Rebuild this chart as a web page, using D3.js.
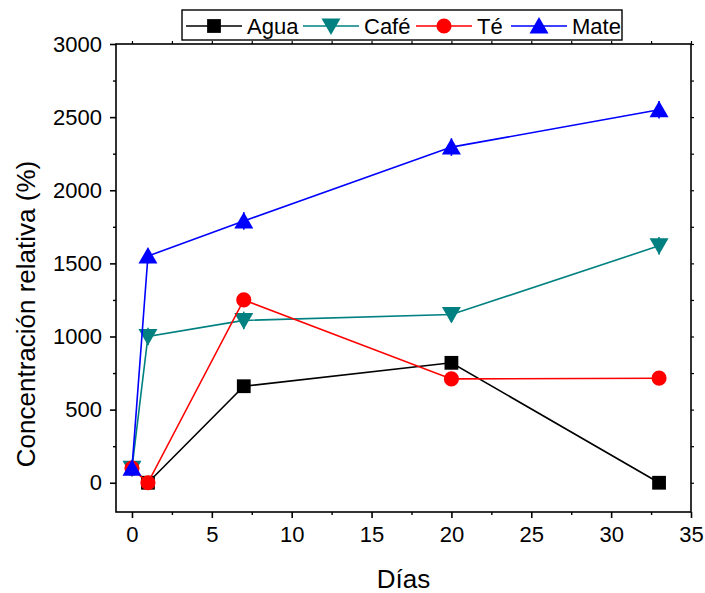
<!DOCTYPE html>
<html><head><meta charset="utf-8">
<script src="https://cdn.jsdelivr.net/npm/d3@7"></script>
<style>body{margin:0;background:#fff}svg{display:block;font-family:"Liberation Sans",Arial,sans-serif}</style>
</head><body><svg id="c" width="705" height="593"></svg>
<script>
const dias = [0, 1, 7, 20, 33];
const agua = [100, 0, 660, 820, 0];
const cafe = [100, 1000, 1110, 1150, 1620];
const te = [100, 0, 1250, 710, 715];
const mate = [100, 1550, 1790, 2295, 2550];
const errCafe = [0, 60, 60, 50, 60];
const errMate = [0, 50, 60, 60, 60];
const xTicks = [0, 5, 10, 15, 20, 25, 30, 35];
const yTicks = [0, 500, 1000, 1500, 2000, 2500, 3000];
const seriesNames = ["Agua", "Café", "Té", "Mate"];

const series = [
  {name: seriesNames[0], vals: agua, err: null, color: "#000000", shape: "square"},
  {name: seriesNames[1], vals: cafe, err: errCafe, color: "#008080", shape: "tridown"},
  {name: seriesNames[2], vals: te, err: null, color: "#ff0000", shape: "circle"},
  {name: seriesNames[3], vals: mate, err: errMate, color: "#0000ff", shape: "triup"}
];

const L = 116, R = 691, T = 44, B = 512;
const x = d3.scaleLinear().domain([-1, 35]).range([L, R]);
const y = d3.scaleLinear().domain([-200, 3000]).range([B, T]);
const svg = d3.select("#c");

function shapePath(shape) {
  if (shape === "square") return d3.symbol(d3.symbolSquare, 190)();
  if (shape === "circle") return d3.symbol(d3.symbolCircle, 180)();
  if (shape === "triup") return "M0,-9L9.5,7.5L-9.5,7.5Z";
  if (shape === "tridown") return "M0,9L9.5,-7.5L-9.5,-7.5Z";
}

const xMinor = d3.range(0, 35.01, 2.5).filter(v => v % 5 !== 0);
const yMinor = d3.range(0, 3000.1, 250).filter(v => v % 500 !== 0);
svg.append("rect").attr("x", L).attr("y", T).attr("width", R - L).attr("height", B - T)
  .attr("fill", "none").attr("stroke", "#000").attr("stroke-width", 1.6);
svg.append("g").attr("transform", `translate(0,${B})`)
  .call(d3.axisBottom(x).tickValues(xTicks).tickSize(6).tickPadding(8).tickFormat(d3.format("d")))
  .call(g => { g.select(".domain").remove(); g.selectAll("line").attr("stroke-width", 1.6); g.selectAll("text").attr("font-size", 22).attr("font-family", "Liberation Sans, Arial"); });
svg.append("g").attr("transform", `translate(0,${B})`)
  .call(d3.axisBottom(x).tickValues(xMinor).tickSize(3).tickFormat(""))
  .call(g => { g.select(".domain").remove(); g.selectAll("line").attr("stroke-width", 1.4); });
svg.append("g").attr("transform", `translate(${L},0)`)
  .call(d3.axisLeft(y).tickValues(yTicks).tickSize(6).tickPadding(8).tickFormat(d3.format("d")))
  .call(g => { g.select(".domain").remove(); g.selectAll("line").attr("stroke-width", 1.6); g.selectAll("text").attr("font-size", 22).attr("font-family", "Liberation Sans, Arial"); });
svg.append("g").attr("transform", `translate(${L},0)`)
  .call(d3.axisLeft(y).tickValues(yMinor).tickSize(3).tickFormat(""))
  .call(g => { g.select(".domain").remove(); g.selectAll("line").attr("stroke-width", 1.4); });
svg.append("g").attr("transform", `translate(0,${T})`)
  .call(d3.axisTop(x).tickValues(xTicks.concat(xMinor)).tickSize(3).tickFormat(""))
  .call(g => { g.select(".domain").remove(); g.selectAll("line").attr("stroke-width", 1.2); });
svg.append("g").attr("transform", `translate(${R},0)`)
  .call(d3.axisRight(y).tickValues(yTicks.concat(yMinor)).tickSize(3).tickFormat(""))
  .call(g => { g.select(".domain").remove(); g.selectAll("line").attr("stroke-width", 1.2); });

svg.append("text").attr("x", (L + R) / 2).attr("y", 588).attr("text-anchor", "middle")
  .attr("font-size", 26).text("Días");
svg.append("text").attr("transform", `translate(35,314) rotate(-90)`).attr("text-anchor", "middle")
  .attr("font-size", 26).text("Concentración relativa (%)");

const line = d3.line().x(d => x(d[0])).y(d => y(d[1]));
series.forEach(s => {
  const pts = dias.map((d, i) => [d, s.vals[i]]);
  const g = svg.append("g");
  g.append("path").attr("d", line(pts)).attr("fill", "none").attr("stroke", s.color).attr("stroke-width", 1.6);
  if (s.err) {
    g.selectAll(".eb").data(pts.map((p, i) => [p[0], p[1], s.err[i]]).filter(p => p[2] > 0)).join("line")
      .attr("x1", d => x(d[0])).attr("x2", d => x(d[0]))
      .attr("y1", d => y(d[1] + d[2])).attr("y2", d => y(d[1] - d[2]))
      .attr("stroke", s.color).attr("stroke-width", 1.6);
  }
  g.selectAll(".m").data(pts).join("path")
    .attr("transform", d => `translate(${x(d[0])},${y(d[1])})`)
    .attr("d", shapePath(s.shape)).attr("fill", s.color);
});

const lg = svg.append("g");
lg.append("rect").attr("x", 182).attr("y", 10).attr("width", 440).attr("height", 30)
  .attr("fill", "#fff").attr("stroke", "#000").attr("stroke-width", 1.4);
const legX = [186, 303, 416, 511];
series.forEach((s, i) => {
  const x0 = legX[i];
  lg.append("line").attr("x1", x0).attr("x2", x0 + 56).attr("y1", 26).attr("y2", 26)
    .attr("stroke", s.color).attr("stroke-width", 1.6);
  lg.append("path").attr("transform", `translate(${x0 + 28},26)`).attr("d", shapePath(s.shape)).attr("fill", s.color);
  lg.append("text").attr("x", x0 + 61).attr("y", 34).attr("font-size", 22).text(s.name);
});
</script></body></html>
